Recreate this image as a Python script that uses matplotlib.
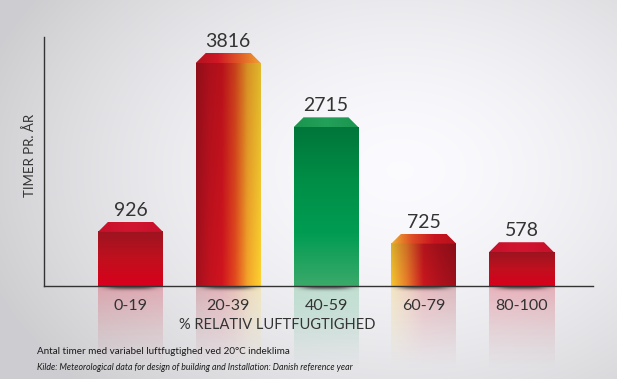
import matplotlib
matplotlib.use("Agg")
import matplotlib.pyplot as plt
import numpy as np
from matplotlib.colors import LinearSegmentedColormap
from matplotlib.patches import Polygon

# data
categories = ['0-19', '20-39', '40-59', '60-79', '80-100']
values = [926, 3816, 2715, 725, 578]

# gradient per bar: direction and colour stops (left->right or top->bottom)
bar_styles = [
    ('v', ['#9c1420', '#c0101e', '#d8001c']),
    ('h', ['#a2111d', '#c2121f', '#d0141f', '#e2481f', '#f3a52a', '#fdd131']),
    ('v', ['#00763a', '#008e46', '#009c52', '#3aa96a']),
    ('h', ['#f6c631', '#e8792a', '#ca171f', '#b0121d', '#9d101b']),
    ('v', ['#9c1420', '#c0101e', '#d8001c']),
]
cap_styles = [
    ('h', ['#c7102a', '#d11530', '#c7102a']),
    ('h', ['#b3121f', '#cf1826', '#e05a26', '#f0a030']),
    ('h', ['#1b9550', '#23a05a', '#1b9550']),
    ('h', ['#f0b030', '#dc4a24', '#c8141f', '#b8121d']),
    ('h', ['#c7102a', '#d11530', '#c7102a']),
]

FONT = ['Lato', 'DejaVu Sans']
W, H = 617, 379
fig = plt.figure(figsize=(W / 100, H / 100), dpi=100)

# background vignette
bg = fig.add_axes([0, 0, 1, 1])
yy, xx = np.mgrid[0:H, 0:W]
d = np.sqrt(((xx - 400) / 420.0) ** 2 + ((yy - 170) / 300.0) ** 2)
shade = np.clip(1.0 - 0.17 * d ** 1.6, 0.82, 1.0)
img = np.dstack([shade * 0.985, shade * 0.985, shade]).clip(0, 1)
bg.imshow(img, aspect='auto', extent=[0, 1, 0, 1], origin='upper')
bg.axis('off')

x0, x1, y0, y1 = 44, 593, 286, 37
ax = fig.add_axes([x0 / W, (H - y0) / H, (x1 - x0) / W, (y0 - y1) / H])
ax.patch.set_alpha(0)

step = 97.75
xlo = -(130.5 - x0) / step
xhi = 4 + (x1 - 521.5) / step
ytop = max(values) * (y0 - y1) / 223.0
ax.set_xlim(xlo, xhi)
ax.set_ylim(0, ytop)

px_y = ytop / (y0 - y1)   # data units per pixel, vertical
px_x = 1.0 / step
bw = 65 * px_x
cap_h = 10 * px_y
inset = 10 * px_x
refl_h = 85 * px_y


def grad_img(style, n=64, alpha=None):
    direction, cols = style
    cmap = LinearSegmentedColormap.from_list('g', cols)
    t = np.linspace(0, 1, n)
    rgb = cmap(t)[:, :3]
    if direction == 'h':
        arr = np.tile(rgb[None, :, :], (n, 1, 1))
    else:
        arr = np.tile(rgb[:, None, :], (1, n, 1))
    if alpha is not None:
        a = np.tile(alpha[:, None], (1, n))
        arr = np.dstack([arr, a])
    return arr


for i, (v, st, cst) in enumerate(zip(values, bar_styles, cap_styles)):
    left, right = i - bw / 2, i + bw / 2
    # body
    body = grad_img(st)
    # slight darkening toward the top for horizontal gradients
    if st[0] == 'h':
        dark = np.linspace(0.88, 1.0, body.shape[0])[:, None, None]
        body = body * dark
    ax.imshow(body, extent=[left, right, 0, v], aspect='auto', origin='upper', zorder=3)
    # cap
    cap = Polygon([[left, v], [right, v], [right - inset, v + cap_h], [left + inset, v + cap_h]],
                  closed=True, facecolor='none', edgecolor='none')
    ax.add_patch(cap)
    ci = ax.imshow(grad_img(cst), extent=[left, right, v, v + cap_h], aspect='auto',
                   origin='upper', zorder=3)
    ci.set_clip_path(cap)
    # value label
    ax.text(i, v + cap_h + 3 * px_y, f'{v}', ha='center', va='bottom', fontsize=14,
            color='#333333', family=FONT, zorder=4)
    # reflection
    fade = np.linspace(0.32, 0.0, 64) ** 1.2
    refl = grad_img(st, alpha=fade)
    if st[0] == 'v':
        refl[:, :, :3] = refl[::-1, :, :3]
    ri = ax.imshow(refl, extent=[left, right, -refl_h, 0], aspect='auto', origin='upper',
                   zorder=1)
    ri.set_clip_on(False)
    # shadow at the foot
    gy, gx = np.mgrid[-1:1:40j, -1:1:80j]
    sa = 0.55 * np.exp(-(gx / 0.6) ** 4 - (gy / 0.45) ** 2)
    sh = np.zeros((40, 80, 4))
    sh[:, :, 3] = sa
    si = ax.imshow(sh, extent=[left - 8 * px_x, right + 8 * px_x, -7 * px_y, 5 * px_y],
                   aspect='auto', zorder=2)
    si.set_clip_on(False)

for s in ['top', 'right']:
    ax.spines[s].set_visible(False)
for s in ['left', 'bottom']:
    ax.spines[s].set_color('#333333')
    ax.spines[s].set_linewidth(1.0)
    ax.spines[s].set_zorder(5)
ax.set_yticks([])
ax.set_xticks(range(len(categories)))
ax.set_xticklabels(categories, fontsize=11.5, color='#333333', family=FONT)
ax.tick_params(axis='x', length=0, pad=9)

fig.text(277 / W, 1 - 325 / H, '% RELATIV LUFTFUGTIGHED', ha='center', va='center',
         fontsize=10.5, color='#333333', family=FONT)
fig.text(30 / W, 1 - 155 / H, 'TIMER PR. ÅR', ha='center', va='center', rotation=90,
         fontsize=9.5, color='#333333', family=FONT)
fig.text(37 / W, 1 - 351 / H, 'Antal timer med variabel luftfugtighed ved 20°C indeklima',
         ha='left', va='center', fontsize=7.1, color='#1a1a1a', family=FONT)
fig.text(37 / W, 1 - 367 / H,
         'Kilde: Meteorological data for design of building and Installation: Danish reference year',
         ha='left', va='center', fontsize=6.3, style='italic', color='#1a1a1a', family=FONT)

fig.savefig('out.png', dpi=100)
